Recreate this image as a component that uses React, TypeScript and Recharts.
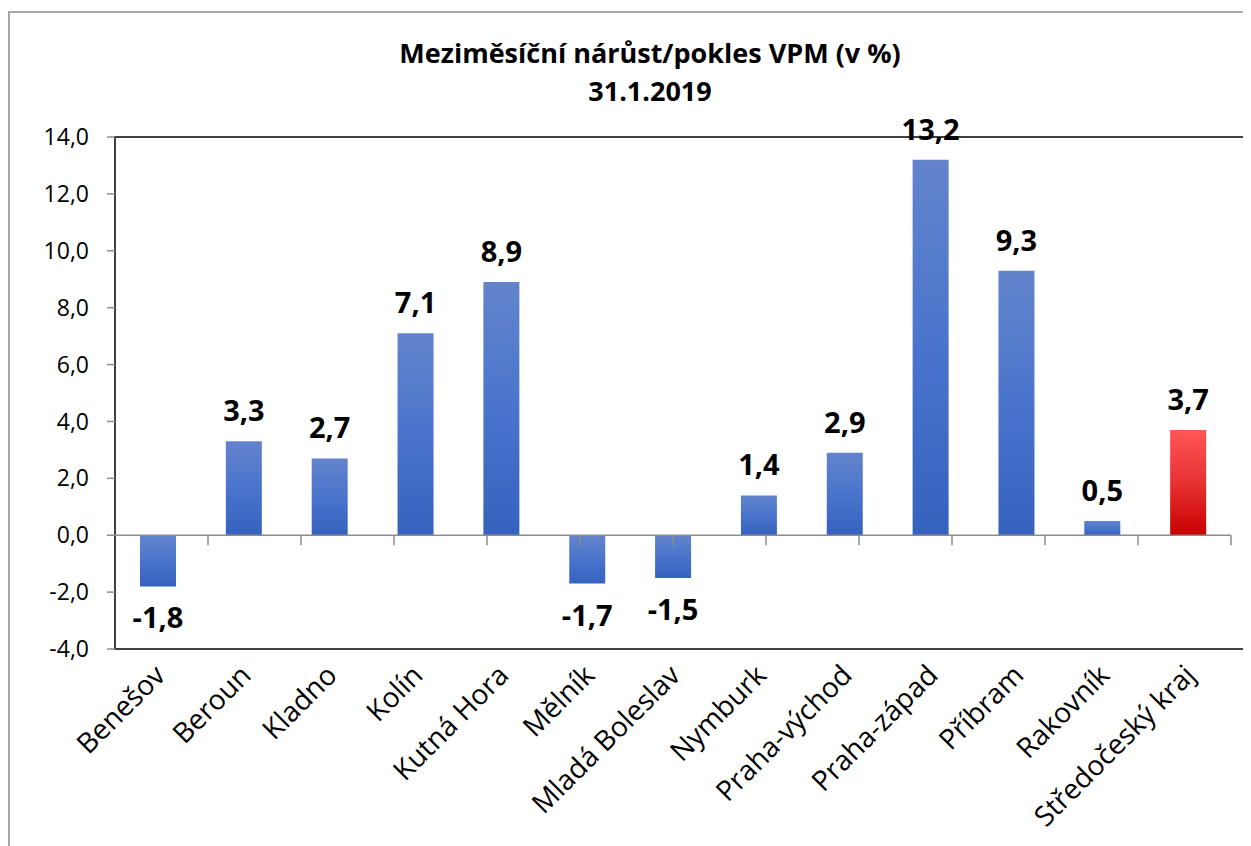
import React from 'react';
import { BarChart, Bar, XAxis, YAxis, Cell, LabelList, ReferenceLine, ReferenceArea } from 'recharts';

const categories = ['Benešov', 'Beroun', 'Kladno', 'Kolín', 'Kutná Hora', 'Mělník', 'Mladá Boleslav', 'Nymburk', 'Praha-východ', 'Praha-západ', 'Příbram', 'Rakovník', 'Středočeský kraj'];
const values = [-1.8, 3.3, 2.7, 7.1, 8.9, -1.7, -1.5, 1.4, 2.9, 13.2, 9.3, 0.5, 3.7];
const highlighted = ['Středočeský kraj'];
const yTicks = [-4, -2, 0, 2, 4, 6, 8, 10, 12, 14];
const boundaries = [1, 2, 3, 4, 5, 6, 7, 8, 9, 10, 11, 12];
const titleLines = ['Meziměsíční nárůst/pokles VPM (v %)', '31.1.2019'];

const data = categories.map((name, i) => ({ name, value: values[i] }));

const FONT = '"Open Sans", "DejaVu Sans", sans-serif';
const fmt = (v: number) => v.toFixed(1).replace('.', ',');

const CategoryTick = (props: any) => {
  const { x, y, payload } = props;
  return (
    <g transform={`translate(${x + 9},${y + 20})`}>
      <text transform="rotate(-45)" textAnchor="end" fontSize={28} fontFamily={FONT} fill="#000">
        {payload.value}
      </text>
    </g>
  );
};

const ValueLabel = (props: any) => {
  const { x, y, width, height, value } = props;
  const top = Math.min(y, y + height);
  const bottom = Math.max(y, y + height);
  const cx = x + width / 2;
  const ty = value >= 0 ? top - 20 : bottom + 42;
  return (
    <text x={cx} y={ty} textAnchor="middle" fontSize={29} fontWeight="bold" fontFamily={FONT} fill="#000">
      {fmt(value)}
    </text>
  );
};

export default function App() {
  return (
    <div style={{ position: 'relative', width: 1243, height: 838, overflow: 'hidden', background: '#fff' }}>
      <div style={{ position: 'absolute', left: 0, top: 3, width: 1400, height: 1000, borderTop: '2px solid #a6a6a6', borderLeft: '2px solid #a6a6a6', boxSizing: 'border-box' }} />
      <div style={{ position: 'absolute', left: 0, top: 26, width: 1284, textAlign: 'center', fontFamily: FONT, fontWeight: 'bold', fontSize: 27, lineHeight: '38px', color: '#000' }}>
        {titleLines.map((t) => (
          <div key={t}>{t}</div>
        ))}
      </div>
      <BarChart width={1243} height={838} data={data} margin={{ top: 129, right: 20, bottom: 0, left: 47 }} barCategoryGap={0}>
        <XAxis dataKey="name" xAxisId="cat" axisLine={false} tickLine={false} interval={0} height={197} tick={<CategoryTick />} />
        <XAxis xAxisId="num" type="number" domain={[0, 13]} hide allowDataOverflow />
        <YAxis
          domain={[-4, 14]}
          ticks={yTicks}
          tickFormatter={fmt}
          width={60}
          axisLine={false}
          tickLine={{ stroke: '#8c8c8c', strokeWidth: 1.5 }}
          tickSize={8}
          tickMargin={18}
          tick={{ fontSize: 23, fontFamily: FONT, fill: '#000' }}
          allowDataOverflow
        />
        <defs>
          <linearGradient id="blueGrad" x1="0" y1="0" x2="0" y2="1">
            <stop offset="0%" stopColor="#6384CC" />
            <stop offset="50%" stopColor="#4A74CC" />
            <stop offset="100%" stopColor="#3562BE" />
          </linearGradient>
          <linearGradient id="redGrad" x1="0" y1="0" x2="0" y2="1">
            <stop offset="0%" stopColor="#FF5656" />
            <stop offset="50%" stopColor="#E83232" />
            <stop offset="100%" stopColor="#C80000" />
          </linearGradient>
        </defs>
        <ReferenceLine xAxisId="num" y={0} stroke="#8c8c8c" strokeWidth={1.5} />
        {boundaries.map((b) => (
          <ReferenceLine
            key={b}
            xAxisId="num"
            ifOverflow="visible"
            segment={[{ x: b, y: 0 }, { x: b, y: -0.35 }]}
            stroke="#8c8c8c"
            strokeWidth={1.5}
          />
        ))}
        <Bar dataKey="value" xAxisId="cat" barSize={36} isAnimationActive={false}>
          {data.map((d) => (
            <Cell key={d.name} fill={highlighted.includes(d.name) ? 'url(#redGrad)' : 'url(#blueGrad)'} />
          ))}
          <LabelList dataKey="value" content={<ValueLabel />} />
        </Bar>
        <ReferenceArea xAxisId="num" x1={0} x2={13} y1={-4} y2={14} fill="none" stroke="#404040" strokeWidth={2} ifOverflow="visible" />
      </BarChart>
    </div>
  );
}
